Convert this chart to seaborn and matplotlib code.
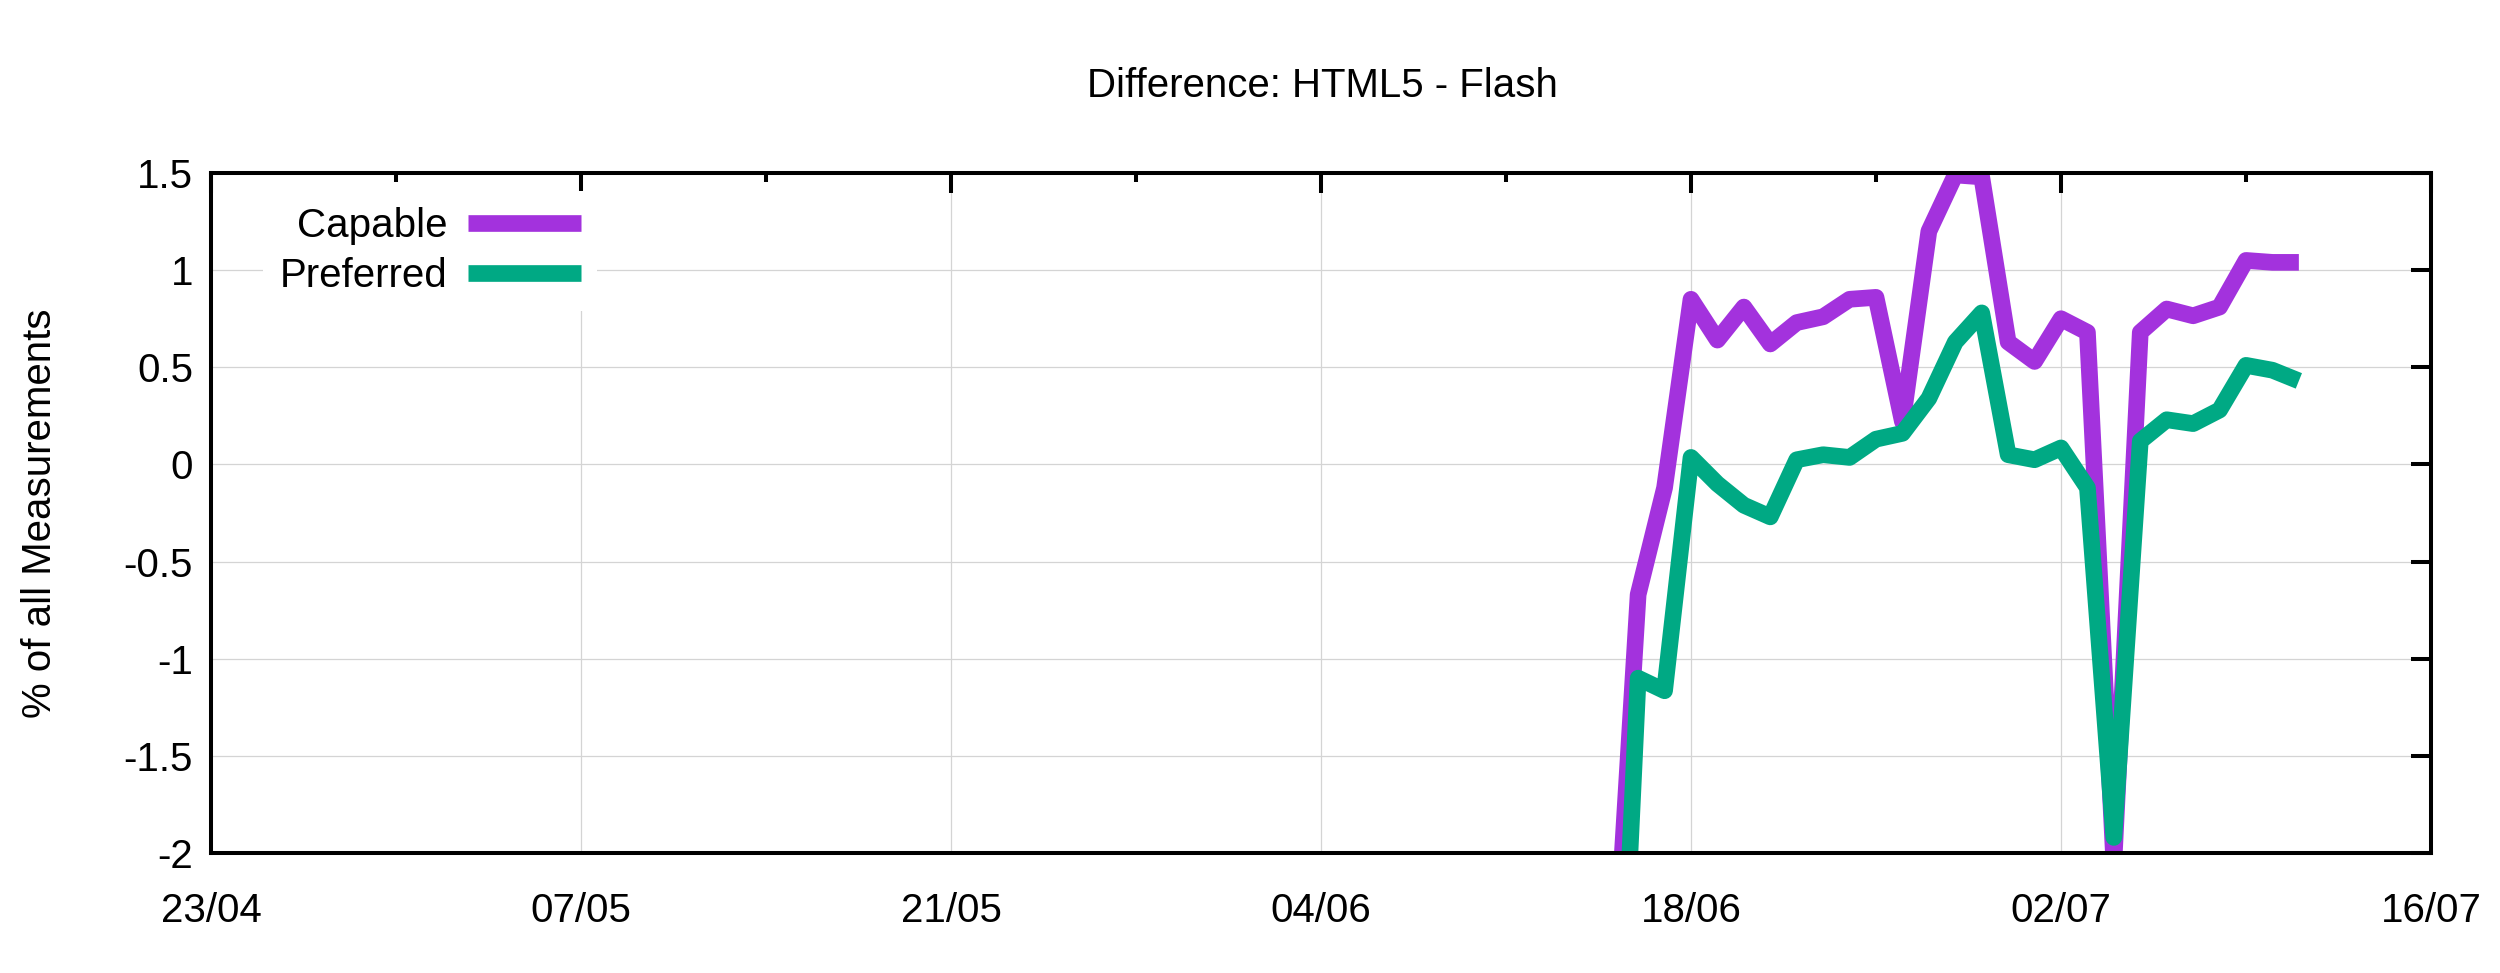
import matplotlib
matplotlib.use('Agg')
import matplotlib.pyplot as plt
import matplotlib.ticker as mticker
from matplotlib.lines import Line2D
import pandas as pd
import seaborn as sns

# daily values, 15/06 .. 11/07
days = pd.date_range('2015-06-15', '2015-07-11', freq='D')
capable = [-2.9, -0.67, -0.12, 0.85, 0.64, 0.81, 0.62, 0.73, 0.76, 0.85, 0.86, 0.22, 1.20, 1.49,
           1.48, 0.63, 0.53, 0.75, 0.68, -2.05, 0.68, 0.80, 0.765, 0.81, 1.05, 1.04, 1.04]
preferred = [-4.0, -1.10, -1.165, 0.036, -0.10, -0.21, -0.27, 0.024, 0.05, 0.036, 0.13, 0.16, 0.34, 0.63,
             0.78, 0.05, 0.024, 0.085, -0.12, -1.92, 0.12, 0.23, 0.21, 0.28, 0.51, 0.485, 0.43]
series_names = ['Capable', 'Preferred']
series_colors = ['#a332dd', '#00a984']

x_major = pd.date_range('2015-04-23', '2015-07-16', freq='14D')
x_minor = pd.date_range('2015-04-23', '2015-07-16', freq='7D')
x_labels = ['23/04', '07/05', '21/05', '04/06', '18/06', '02/07', '16/07']
y_ticks = [-2, -1.5, -1, -0.5, 0, 0.5, 1, 1.5]
y_labels = ['-2', '-1.5', '-1', '-0.5', '0', '0.5', '1', '1.5']

df = pd.DataFrame({
    'date': list(days) * 2,
    'value': capable + preferred,
    'series': [series_names[0]] * len(days) + [series_names[1]] * len(days),
})

sns.set_style('white')
plt.rcParams['font.family'] = ['Liberation Sans', 'DejaVu Sans']
plt.rcParams['axes.unicode_minus'] = False
plt.rcParams['text.color'] = 'black'
plt.rcParams['xtick.color'] = 'black'
plt.rcParams['ytick.color'] = 'black'
fs = 29
lw = 12

fig = plt.figure(figsize=(25, 9.73), dpi=100)
ax = fig.add_axes([211 / 2500, 120 / 973, 2220 / 2500, 680 / 973])

palette = dict(zip(series_names, series_colors))
sns.lineplot(data=df, x='date', y='value', hue='series', palette=palette, linewidth=lw,
             legend=False, ax=ax, solid_joinstyle='round', solid_capstyle='butt', zorder=3)

ax.set_xlim(x_major[0], x_major[-1])
ax.set_ylim(-2, 1.5)
ax.xaxis.set_major_locator(mticker.FixedLocator(matplotlib.dates.date2num(x_major)))
ax.xaxis.set_minor_locator(mticker.FixedLocator(matplotlib.dates.date2num(x_minor)))
ax.xaxis.set_major_formatter(mticker.FixedFormatter(x_labels))
ax.set_yticks(y_ticks)
ax.set_yticklabels(y_labels)
ax.set_xlabel('')
ax.set_ylabel('')

ax.grid(True, which='major', color='#d4d4d4', linewidth=0.9, zorder=0)
for sp in ax.spines.values():
    sp.set_linewidth(2.9)
    sp.set_color('black')
    sp.set_zorder(4)
ax.tick_params(which='both', direction='in', top=True, right=True, width=2.9, colors='black',
               labelcolor='black', labelsize=fs)
ax.tick_params(which='major', length=14.4)
ax.tick_params(which='minor', length=6.5)
ax.tick_params(axis='x', pad=28)
ax.tick_params(axis='y', pad=13)

handles = [Line2D([0], [0], color=c, linewidth=lw, solid_capstyle='butt') for c in series_colors]
leg = ax.legend(handles, series_names, loc='center', bbox_to_anchor=((430 - 211) / 2220, (853 - 251) / 680),
                markerfirst=False, frameon=True, fontsize=fs, handlelength=2.8, handletextpad=0.52,
                labelspacing=0.3, borderpad=0.4, borderaxespad=0)
leg.get_frame().set_facecolor('white')
leg.get_frame().set_edgecolor('none')
leg.get_frame().set_alpha(1)
for t in leg.get_texts():
    t.set_color('black')

fig.text(1322 / 2500, 1 - 86 / 973, 'Difference: HTML5 - Flash', ha='center', va='center', fontsize=fs,
         color='black')
fig.text(40 / 2500, 1 - 513 / 973, '% of all Measurements', ha='center', va='center', rotation=90,
         fontsize=fs, color='black')

fig.savefig('out.png', dpi=100, facecolor='white')
